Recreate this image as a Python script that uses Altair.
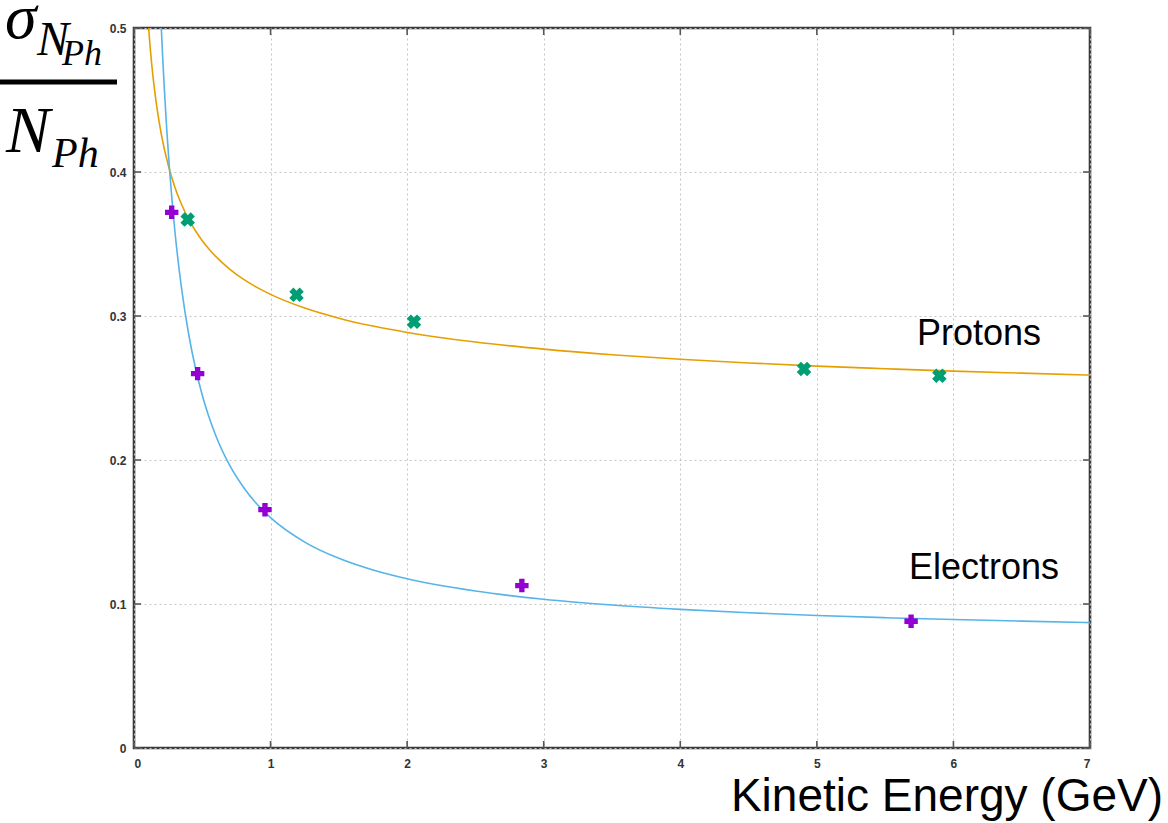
import altair as alt
import pandas as pd

# Measured points (kinetic energy in GeV, relative photon-count resolution)
electron_E = [0.276, 0.466, 0.959, 2.84, 5.69]
electron_R = [0.372, 0.260, 0.1655, 0.1128, 0.088]
proton_E = [0.393, 1.19, 2.05, 4.906, 5.897]
proton_R = [0.367, 0.3147, 0.296, 0.2632, 0.2585]

# Fitted resolution curves
electron_fit_E = [0.200, 0.21, 0.22, 0.24, 0.26, 0.28, 0.30, 0.35, 0.40, 0.45, 0.50,
                  0.60, 0.70, 0.80, 0.90, 1.00, 1.25, 1.50, 1.75, 2.00, 2.50, 3.00,
                  3.50, 4.00, 4.50, 5.00, 5.50, 6.00, 6.50, 7.00]
electron_fit_R = [0.5000, 0.4798, 0.4614, 0.4292, 0.4019, 0.3786, 0.3583, 0.3179, 0.2875,
                  0.2639, 0.2450, 0.2167, 0.1964, 0.1813, 0.1694, 0.1600, 0.1430, 0.1317,
                  0.1236, 0.1175, 0.1090, 0.1033, 0.0993, 0.0963, 0.0939, 0.0920, 0.0905,
                  0.0892, 0.0881, 0.0871]
proton_fit_E = [0.107, 0.12, 0.13, 0.15, 0.17, 0.20, 0.25, 0.30, 0.35, 0.40, 0.45, 0.50,
                0.55, 0.60, 0.70, 0.80, 0.90, 1.00, 1.25, 1.50, 1.75, 2.00, 2.50, 3.00,
                3.50, 4.00, 4.50, 5.00, 5.50, 6.00, 6.50, 7.00]
proton_fit_R = [0.5001, 0.4848, 0.4746, 0.4574, 0.4433, 0.4262, 0.4050, 0.3893, 0.3771,
                0.3673, 0.3592, 0.3523, 0.3464, 0.3412, 0.3326, 0.3256, 0.3199, 0.3150,
                0.3055, 0.2985, 0.2930, 0.2886, 0.2819, 0.2770, 0.2731, 0.2700, 0.2674,
                0.2652, 0.2634, 0.2617, 0.2603, 0.2590]

x_ticks = [0, 1, 2, 3, 4, 5, 6, 7]
y_ticks = [0, 0.1, 0.2, 0.3, 0.4, 0.5]

W, H = 956, 720
FRAME = "#3a3a3a"
TICK = "#555555"
SERIF = "Liberation Serif"
SANS = "Liberation Sans"


def xenc(field="E"):
    return alt.X(f"{field}:Q",
                 scale=alt.Scale(domain=[0, 7], nice=False, zero=False),
                 axis=alt.Axis(values=x_ticks, format="~g", title=None, labelPadding=10))


def yenc(field="R"):
    return alt.Y(f"{field}:Q",
                 scale=alt.Scale(domain=[0, 0.5], nice=False, zero=False),
                 axis=alt.Axis(values=y_ticks, format="~g", title=None, labelPadding=8))


e_fit = pd.DataFrame({"E": electron_fit_E, "R": electron_fit_R})
p_fit = pd.DataFrame({"E": proton_fit_E, "R": proton_fit_R})
e_pts = pd.DataFrame({"E": electron_E, "R": electron_R})
p_pts = pd.DataFrame({"E": proton_E, "R": proton_R})

# The fitted curves are kept inside the frame
e_line = alt.Chart(e_fit).mark_line(color="#56B4E9", strokeWidth=1.6, clip=True,
                                    interpolate="monotone").encode(x=xenc(), y=yenc())
p_line = alt.Chart(p_fit).mark_line(color="#E69F00", strokeWidth=1.6, clip=True,
                                    interpolate="monotone").encode(x=xenc(), y=yenc())

e_marks = alt.Chart(e_pts).mark_point(shape="cross", filled=True, size=180, opacity=1,
                                      color="#9400D3").encode(x=xenc(), y=yenc())
p_marks = alt.Chart(p_pts).mark_point(shape="cross", filled=True, size=215, angle=45, opacity=1,
                                      color="#009E73").encode(x=xenc(), y=yenc())

# Inward tick marks on all four sides of the frame
xt = pd.DataFrame({"E": x_ticks})
yt = pd.DataFrame({"R": y_ticks})
tick_style = dict(color=TICK, strokeWidth=1.6)
ticks_bottom = alt.Chart(xt).mark_rule(**tick_style).encode(
    x=xenc(), y=alt.value(H), y2=alt.value(H - 7))
ticks_top = alt.Chart(xt).mark_rule(**tick_style).encode(
    x=xenc(), y=alt.value(0), y2=alt.value(7))
ticks_left = alt.Chart(yt).mark_rule(**tick_style).encode(
    y=yenc(), x=alt.value(0), x2=alt.value(7))
ticks_right = alt.Chart(yt).mark_rule(**tick_style).encode(
    y=yenc(), x=alt.value(W), x2=alt.value(W - 7))


def label(text, x, y, size, font=SANS, style="normal", align="left"):
    return alt.Chart(pd.DataFrame({"t": [text]})).mark_text(
        font=font, fontSize=size, fontStyle=style, align=align,
        baseline="alphabetic", color="black").encode(
        text="t:N", x=alt.value(x), y=alt.value(y))


series_names = ["Protons", "Electrons"]
x_title = "Kinetic Energy (GeV)"

# Fraction sigma_{N_Ph} / N_Ph used as the y-axis title
frac_bar = alt.Chart(pd.DataFrame({"a": [0]})).mark_rule(color="black", strokeWidth=5).encode(
    x=alt.value(-134), x2=alt.value(-17), y=alt.value(54))
y_title = [
    label("σ", -129, 10, 64, SERIF, "italic"),
    label("N", -97, 27, 48, SERIF, "italic"),
    label("Ph", -72, 37, 36, SERIF, "italic"),
    frac_bar,
    label("N", -128, 124, 66, SERIF, "italic"),
    label("Ph", -82, 139, 42, SERIF, "italic"),
]

texts = [
    label(series_names[0], 845, 317, 36, align="center"),
    label(series_names[1], 850, 551, 36, align="center"),
    label(x_title, 1029, 783, 46, align="right"),
]

chart = alt.layer(
    p_line, e_line, p_marks, e_marks,
    ticks_bottom, ticks_top, ticks_left, ticks_right,
    *y_title, *texts,
).properties(
    width=W, height=H,
    autosize=alt.AutoSizeParams(type="none"),
    padding={"left": 134, "top": 28, "right": 78, "bottom": 75},
).configure_view(
    stroke=FRAME, strokeWidth=2.6
).configure_axis(
    domain=False, ticks=False, grid=True,
    gridColor="#c4c4c4", gridDash=[2, 3], gridWidth=1,
    labelFont=SANS, labelFontSize=12, labelFontWeight="bold", labelColor="#333333",
)

chart.save("out.html", embed_options={"renderer": "svg", "actions": False})
